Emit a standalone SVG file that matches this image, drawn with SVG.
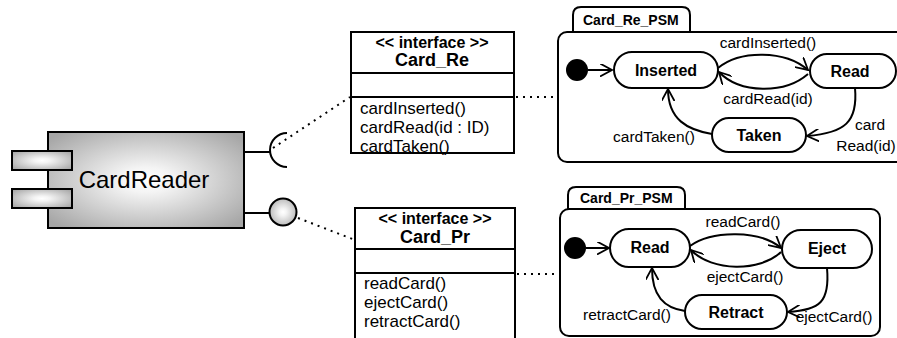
<svg xmlns="http://www.w3.org/2000/svg" width="897" height="338" viewBox="0 0 897 338">
<style>
text{font-family:"Liberation Sans",Arial,sans-serif;fill:#000}
.b{font-weight:bold}
.st{fill:#fff;stroke:#000;stroke-width:2}
.ln{fill:none;stroke:#000;stroke-width:2}
.dot{fill:none;stroke:#000;stroke-width:2;stroke-dasharray:2,5}
.tr{fill:none;stroke:#000;stroke-width:2;marker-end:url(#arr)}
.lbl{font-size:15.5px}
.meth{font-size:17px}
</style>
<defs>
<radialGradient id="g" cx="50%" cy="50%" r="65%">
<stop offset="0" stop-color="#ffffff"/>
<stop offset="0.2" stop-color="#f4f4f4"/>
<stop offset="1" stop-color="#a6a6a6"/>
</radialGradient>
<marker id="arr" viewBox="0 0 13 13" refX="12" refY="6.5" markerWidth="13" markerHeight="13" markerUnits="userSpaceOnUse" orient="auto">
<path d="M0,0 L12,6.5 L0,13" fill="none" stroke="#000" stroke-width="1.8"/>
</marker>
</defs>

<g id="connectors">
<line class="dot" x1="273" y1="148" x2="350" y2="97"/>
<line class="dot" x1="298" y1="218" x2="355" y2="240"/>
<line class="dot" x1="516" y1="97" x2="556" y2="97"/>
<line class="dot" x1="517" y1="274" x2="558" y2="274"/>
</g>

<g id="CardReader">
<line class="ln" x1="244" y1="152" x2="270" y2="152"/>
<path class="ln" d="M287,133 A17,17 0 0 0 287,167"/>
<line class="ln" x1="244" y1="213" x2="270" y2="213"/>
<circle cx="283" cy="212" r="13.5" fill="url(#g)" stroke="#000" stroke-width="2"/>
<rect x="48" y="132" width="196" height="96" fill="url(#g)" stroke="#000" stroke-width="2"/>
<rect x="12" y="151" width="60" height="19" fill="url(#g)" stroke="#000" stroke-width="2"/>
<rect x="12" y="189" width="60" height="19" fill="url(#g)" stroke="#000" stroke-width="2"/>
<text x="144" y="188" font-size="24" text-anchor="middle">CardReader</text>
</g>

<g id="Card_Re">
<rect class="st" x="351" y="32" width="163" height="121"/>
<line class="ln" x1="351" y1="73" x2="514" y2="73"/>
<line class="ln" x1="351" y1="97" x2="514" y2="97"/>
<text class="b" x="432" y="48" font-size="16" text-anchor="middle">&lt;&lt; interface &gt;&gt;</text>
<text class="b" x="432" y="66" font-size="18" text-anchor="middle">Card_Re</text>
<text class="meth" x="360" y="114">cardInserted()</text>
<text class="meth" x="360" y="133">cardRead(id : ID)</text>
<text class="meth" x="360" y="152">cardTaken()</text>
</g>

<g id="Card_Pr">
<path class="st" d="M355,340 L355,208 L515,208 L515,340"/>
<line class="ln" x1="355" y1="249" x2="515" y2="249"/>
<line class="ln" x1="355" y1="273" x2="515" y2="273"/>
<text class="b" x="435" y="224" font-size="16" text-anchor="middle">&lt;&lt; interface &gt;&gt;</text>
<text class="b" x="435" y="243" font-size="18" text-anchor="middle">Card_Pr</text>
<text class="meth" x="364" y="289">readCard()</text>
<text class="meth" x="364" y="308">ejectCard()</text>
<text class="meth" x="364" y="327">retractCard()</text>
</g>

<g id="Card_Re_PSM">
<path class="st" d="M573,32 L573,15 Q573,7 581,7 L682,7 Q690,7 690,15 L690,32"/>
<rect class="st" x="558" y="32" width="360" height="130" rx="9"/>
<text class="b" x="583" y="25" font-size="14">Card_Re_PSM</text>
</g>

<g id="Card_Pr_PSM">
<path class="st" d="M568,209 L568,195 Q568,187 576,187 L677,187 Q685,187 685,195 L685,209"/>
<rect class="st" x="560" y="209" width="320" height="127" rx="9"/>
<text class="b" x="580" y="203" font-size="14">Card_Pr_PSM</text>
</g>

<g id="re-transitions">
<path class="tr" d="M588,70 L612,70"/>
<path class="tr" d="M718,68 C740,50 785,50 808,70"/>
<path class="tr" d="M808,74 C785,94 740,94 719,72"/>
<path class="tr" d="M855,88 C858,122 845,133 807,136"/>
<path class="tr" d="M712,134 C688,130 668,120 668,89"/>
<text class="lbl" x="768" y="48" text-anchor="middle">cardInserted()</text>
<text class="lbl" x="768" y="104" text-anchor="middle">cardRead(id)</text>
<text class="lbl" x="870" y="130" text-anchor="middle">card</text>
<text class="lbl" x="866" y="151" text-anchor="middle">Read(id)</text>
<text class="lbl" x="654" y="142" text-anchor="middle">cardTaken()</text>
</g>

<g id="pr-transitions">
<path class="tr" d="M586,248 L609,248"/>
<path class="tr" d="M690,246 C712,230 760,230 781,248"/>
<path class="tr" d="M781,252 C760,272 712,272 691,250"/>
<path class="tr" d="M827,268 C830,302 820,310 788,312"/>
<path class="tr" d="M685,311 C664,308 652,296 652,268"/>
<text class="lbl" x="743" y="227" text-anchor="middle">readCard()</text>
<text class="lbl" x="745" y="282" text-anchor="middle">ejectCard()</text>
<text class="lbl" x="834" y="322" text-anchor="middle">ejectCard()</text>
<text class="lbl" x="627" y="320" text-anchor="middle">retractCard()</text>
</g>

<g id="initial-re"><circle cx="577" cy="70" r="11" fill="#000"/></g>
<g id="Inserted">
<rect class="st" x="614" y="52" width="104" height="36" rx="18"/>
<text class="b" x="666" y="76" font-size="16" text-anchor="middle">Inserted</text>
</g>
<g id="Read-re">
<rect class="st" x="810" y="54" width="86" height="34" rx="17"/>
<text class="b" x="850" y="77" font-size="16" text-anchor="middle">Read</text>
</g>
<g id="Taken">
<rect class="st" x="712" y="118" width="94" height="34" rx="17"/>
<text class="b" x="759" y="141" font-size="16" text-anchor="middle">Taken</text>
</g>

<g id="initial-pr"><circle cx="575" cy="248" r="11" fill="#000"/></g>
<g id="Read-pr">
<rect class="st" x="610" y="229" width="80" height="38" rx="19"/>
<text class="b" x="650" y="253" font-size="16" text-anchor="middle">Read</text>
</g>
<g id="Eject">
<rect class="st" x="782" y="230" width="90" height="38" rx="19"/>
<text class="b" x="827" y="254" font-size="16" text-anchor="middle">Eject</text>
</g>
<g id="Retract">
<rect class="st" x="685" y="295" width="102" height="34" rx="17"/>
<text class="b" x="736" y="318" font-size="16" text-anchor="middle">Retract</text>
</g>
</svg>
